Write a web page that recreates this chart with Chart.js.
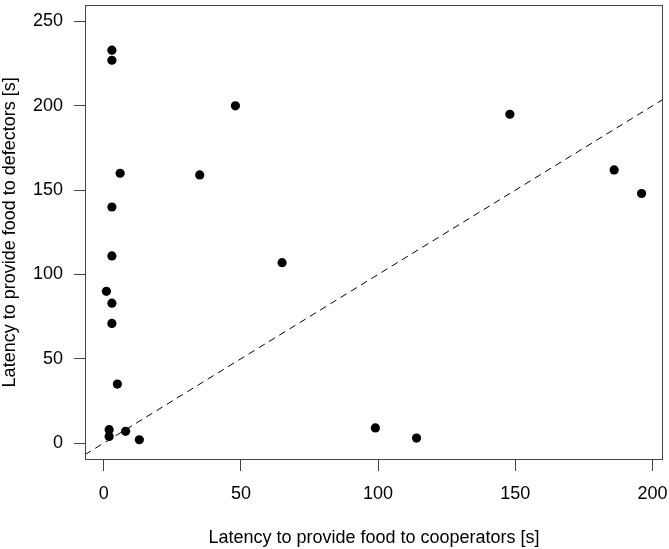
<!DOCTYPE html>
<html>
<head>
<meta charset="utf-8">
<script src="https://cdn.jsdelivr.net/npm/chart.js@4.4.1/dist/chart.umd.min.js"></script>
<style>
  html, body { margin: 0; padding: 0; background: #fff; }
  #wrap { width: 669px; height: 549px; position: relative; }
</style>
</head>
<body>
<div id="wrap"><canvas id="c" width="669" height="549"></canvas></div>
<script>
// Data
const cooperatorLatency = [3, 3, 48, 6, 35, 3, 3, 65, 1, 3, 3, 5, 2, 2, 8, 13, 148, 186, 196, 99, 114];
const defectorLatency   = [233, 227, 200, 160, 159, 140, 111, 107, 90, 83, 71, 35, 8, 4, 7, 2, 195, 162, 148, 9, 3];
const xTickValues = [0, 50, 100, 150, 200];
const yTickValues = [0, 50, 100, 150, 200, 250];
const refIntercept = 0;   // dashed reference line y = a + b*x
const refSlope = 1;
const xTitle = 'Latency to provide food to cooperators [s]';
const yTitle = 'Latency to provide food to defectors [s]';

// R-style axis limits (4% extension)
const xDataMin = Math.min(...cooperatorLatency), xDataMax = Math.max(...cooperatorLatency);
const xPad = (xDataMax - xDataMin) * 0.04;
const xMin = xDataMin - xPad, xMax = xDataMax + xPad;
const yLimLo = 0, yLimHi = 250;
const yPad = (yLimHi - yLimLo) * 0.04;
const yMin = yLimLo - yPad, yMax = yLimHi + yPad;

const points = cooperatorLatency.map((v, i) => ({ x: v, y: defectorLatency[i] }));
const refLine = [xMin, xMax].map(x => ({ x: x, y: refIntercept + refSlope * x }));

const FONT = '"Liberation Sans", Arial, Helvetica, sans-serif';
const AXIS_COLOR = '#444';

const boxPlugin = {
  id: 'box',
  afterDraw(chart) {
    const { ctx, chartArea: a } = chart;
    ctx.save();
    ctx.strokeStyle = AXIS_COLOR;
    ctx.lineWidth = 1;
    ctx.strokeRect(Math.round(a.left) + 0.5, Math.round(a.top) + 0.5,
                   Math.round(a.right - a.left) - 1, Math.round(a.bottom - a.top) - 1);
    ctx.restore();
  }
};

function zeroPad(s) { s.paddingTop = 0; s.paddingBottom = 0; s.paddingLeft = 0; s.paddingRight = 0; }

new Chart(document.getElementById('c'), {
  type: 'scatter',
  data: {
    datasets: [
      {
        label: 'ref',
        data: refLine,
        showLine: true,
        borderColor: '#000',
        borderWidth: 1,
        borderDash: [7, 5],
        pointRadius: 0,
        fill: false,
        order: 2
      },
      {
        label: 'points',
        data: points,
        pointRadius: 4.6,
        pointBackgroundColor: '#000',
        pointBorderColor: '#000',
        pointBorderWidth: 0,
        order: 1
      }
    ]
  },
  options: {
    responsive: false,
    animation: false,
    devicePixelRatio: 1,
    layout: { padding: { top: 2, right: 6, left: 0, bottom: 0 } },
    plugins: { legend: { display: false }, tooltip: { enabled: false } },
    scales: {
      x: {
        type: 'linear',
        min: xMin, max: xMax,
        afterBuildTicks: s => { s.ticks = xTickValues.map(v => ({ value: v })); },
        afterFit: s => { s.height = 89; zeroPad(s); },
        grid: { drawOnChartArea: false, drawTicks: true, tickLength: 11, tickColor: AXIS_COLOR, tickWidth: 1 },
        border: { display: false },
        ticks: { color: '#000', font: { family: FONT, size: 18 }, padding: 12, maxRotation: 0, autoSkip: false },
        title: { display: true, text: xTitle, color: '#000', font: { family: FONT, size: 18, lineHeight: 1 }, padding: { top: 0, bottom: 2 } }
      },
      y: {
        type: 'linear',
        min: yMin, max: yMax,
        afterBuildTicks: s => { s.ticks = yTickValues.map(v => ({ value: v })); },
        afterFit: s => { s.width = 85; zeroPad(s); },
        grid: { drawOnChartArea: false, drawTicks: true, tickLength: 11, tickColor: AXIS_COLOR, tickWidth: 1 },
        border: { display: false },
        ticks: { color: '#000', font: { family: FONT, size: 18 }, padding: 11, autoSkip: false },
        title: { display: true, text: yTitle, color: '#000', font: { family: FONT, size: 18, lineHeight: 1 }, padding: { top: 1, bottom: 0 } }
      }
    }
  },
  plugins: [boxPlugin]
});
</script>
</body>
</html>
